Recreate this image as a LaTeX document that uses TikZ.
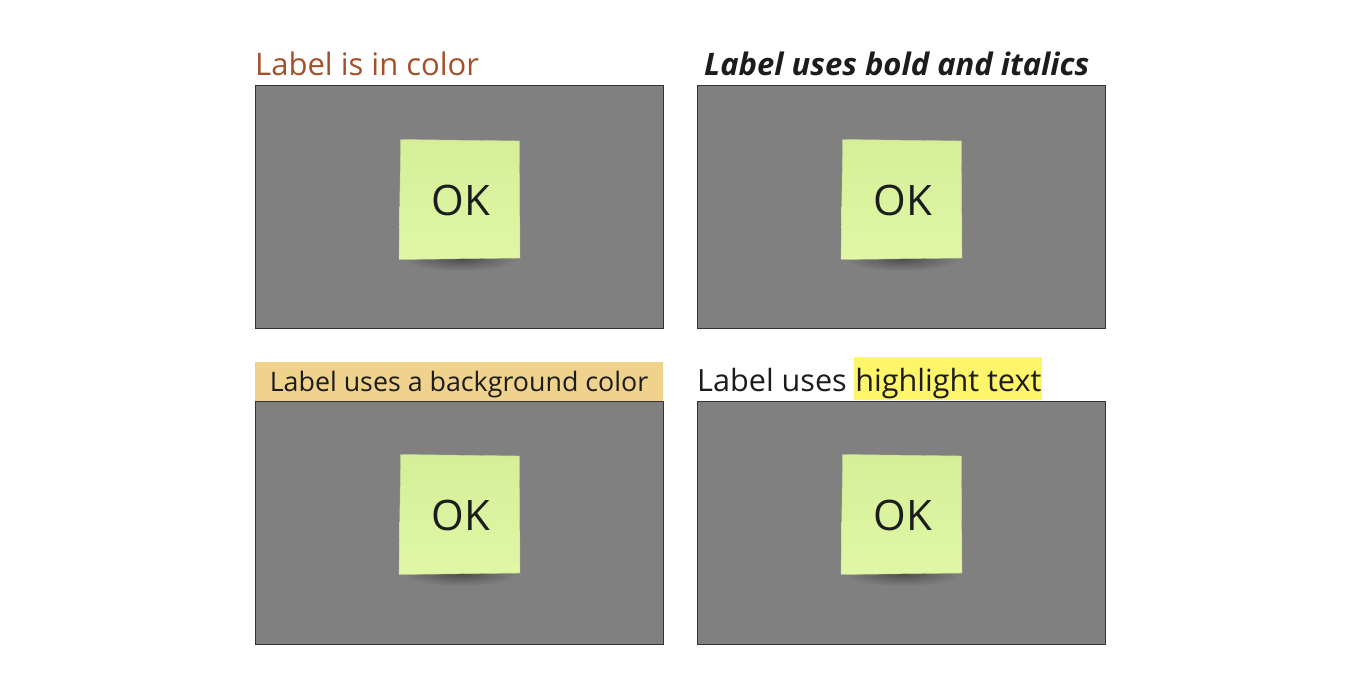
\documentclass[tikz,border=0pt]{standalone}
\usepackage{fontspec}
\setmainfont{Open Sans}
\usetikzlibrary{positioning}
\definecolor{labelbrown}{HTML}{A3512B}
\definecolor{labelbg}{HTML}{EFD28B}
\definecolor{hilite}{HTML}{FFF56A}
\definecolor{framefill}{HTML}{808080}
\definecolor{frameline}{HTML}{333333}
\definecolor{inktext}{HTML}{1C1C1C}
\definecolor{notetop}{HTML}{D6EE98}
\definecolor{notemid}{HTML}{DBF39E}
\definecolor{notebot}{HTML}{E0F6A6}
\definecolor{shadowdark}{HTML}{4E4E4E}
\tikzset{
  x=1pt, y=-1pt,
  frame/.style={draw=frameline, line width=1pt, fill=framefill, minimum width=408pt, minimum height=243pt, inner sep=0pt, anchor=north west},
  lbl/.style={font=\fontsize{31}{36}\selectfont, text=inktext, inner sep=0pt, anchor=base west},
  lblmid/.style={font=\fontsize{30.6}{36}\selectfont, text=inktext, inner sep=0pt, anchor=base west},
  lblsmall/.style={font=\fontsize{26.8}{32}\selectfont, text=inktext, inner sep=0pt, anchor=base west},
  note/.pic={
    \shade[inner color=shadowdark, outer color=framefill] (0,59) ellipse [x radius=58pt, y radius=12pt];
    \shade[top color=notetop, bottom color=notebot, middle color=notemid, draw=notetop!80!gray, line width=0.4pt]
      (-59.3,-60.5) -- (59.3,-59) -- (60,58) -- (-61,59.5) -- cycle;
    \node[font=\fontsize{42}{48}\selectfont, text=inktext, inner sep=0pt] (-ok) at (1,0) {OK};
  }
}
\begin{document}
\begin{tikzpicture}
\useasboundingbox[fill=white] (0,0) rectangle (1350,686);
% frames
\node[frame] (f1) at (255,85) {};
\node[frame] (f2) at (697,85) {};
\node[frame] (f3) at (255,401) {};
\node[frame] (f4) at (697,401) {};
% notes
\pic (n1) at (460,200) {note};
\pic (n2) at (902,200) {note};
\pic (n3) at (460,515) {note};
\pic (n4) at (902,515) {note};
% labels
\node[lbl, text=labelbrown] (l1) at (255,75) {Label is in color};
\node[lbl, font=\fontsize{31}{36}\selectfont\bfseries\itshape] (l2) at (704,75) {Label uses bold and italics};
\node[fill=labelbg, minimum width=408pt, minimum height=39pt, inner sep=0pt, anchor=south west] (l3bg) at (255,401) {};
\node[lblsmall, anchor=base] (l3) at (459,391.5) {Label uses a background color};
\node[lblmid] (l4) at (697,391) {Label uses};
\node[lblmid, fill=hilite, text height=34pt, text depth=9pt, inner xsep=1pt, xshift=7pt] (l4h) at (l4.base east) {highlight text};
\end{tikzpicture}
\end{document}
